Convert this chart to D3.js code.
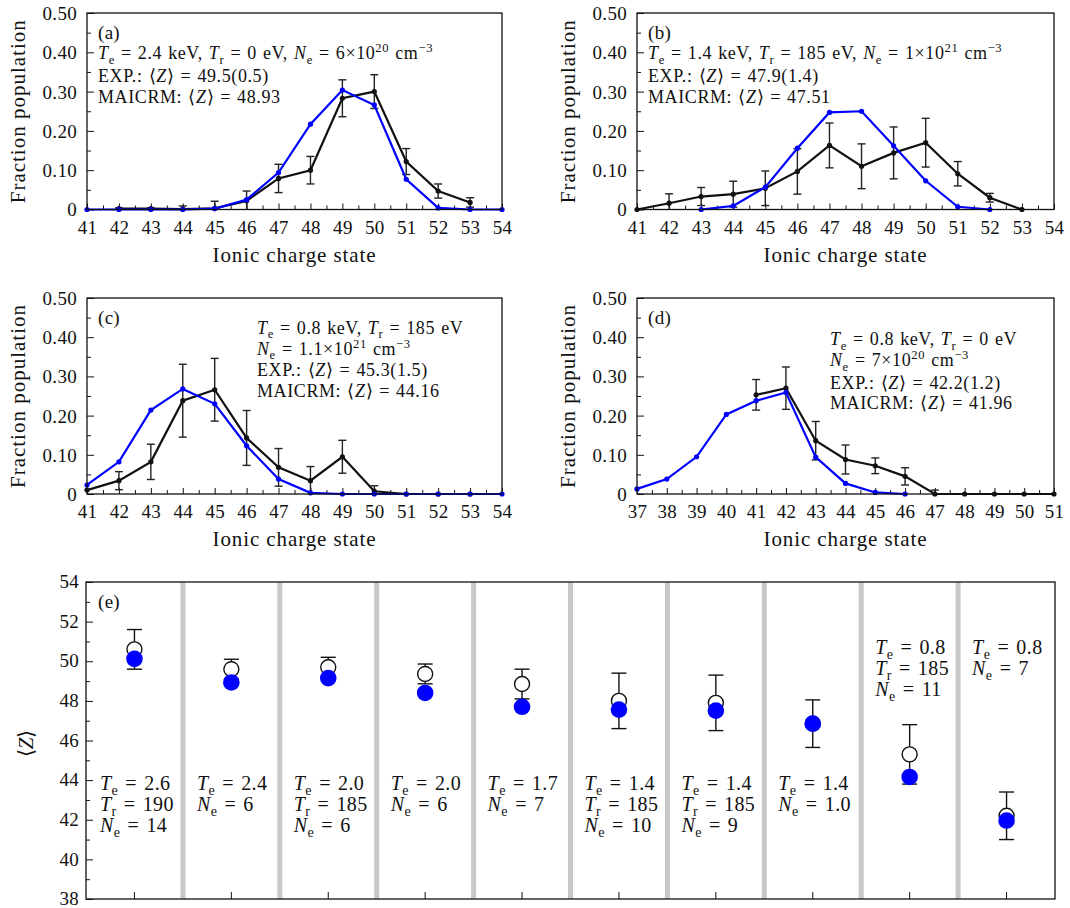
<!DOCTYPE html>
<html><head><meta charset="utf-8">
<script src="https://cdn.jsdelivr.net/npm/d3@7"></script>
<style>
body{margin:0;background:#fff}
svg{display:block;font-family:"Liberation Serif","Times New Roman",serif}
text{white-space:pre}
</style></head><body>
<svg id="chart" width="1070" height="908"></svg>
<script>
// ---------------- data ----------------
// panel (a)
const chargeA_exp = [42,43,44,45,46,47,48,49,50,51,52,53];
const fracA_exp   = [0.002,0.002,0.001,0.003,0.022,0.079,0.100,0.283,0.300,0.122,0.047,0.018];
const errA_exp    = [0.002,0.002,0.008,0.018,0.025,0.036,0.035,0.047,0.043,0.033,0.018,0.012];
const chargeA_mod = [41,42,43,44,45,46,47,48,49,50,51,52,53,54];
const fracA_mod   = [0,0,0,0,0.002,0.025,0.094,0.217,0.304,0.266,0.077,0.004,0,0];
// panel (b)
const chargeB_exp = [41,42,43,44,45,46,47,48,49,50,51,52,53];
const fracB_exp   = [0,0.016,0.033,0.039,0.054,0.097,0.163,0.110,0.144,0.170,0.091,0.030,0];
const errB_exp    = [0,0.024,0.023,0.033,0.044,0.058,0.057,0.057,0.066,0.062,0.031,0.011,0];
const chargeB_mod = [43,44,45,46,47,48,49,50,51,52];
const fracB_mod   = [0,0.009,0.057,0.156,0.247,0.250,0.162,0.073,0.007,0];
// panel (c)
const chargeC_exp = [41,42,43,44,45,46,47,48,49,50,51,52,53];
const fracC_exp   = [0.010,0.034,0.082,0.238,0.266,0.143,0.068,0.034,0.095,0.007,0,0,0];
const errC_exp    = [0,0.023,0.045,0.093,0.080,0.070,0.048,0.036,0.042,0.014,0,0,0];
const chargeC_mod = [41,42,43,44,45,46,47,48,49,50,51,52,53,54];
const fracC_mod   = [0.023,0.082,0.214,0.268,0.230,0.123,0.038,0.003,0,0,0,0,0,0];
// panel (d)
const chargeD_exp = [41,42,43,44,45,46,47,48,49,50,51];
const fracD_exp   = [0.253,0.270,0.136,0.088,0.072,0.045,0,0,0,0,0];
const errD_exp    = [0.039,0.054,0.049,0.037,0.020,0.022,0.010,0,0,0,0];
const chargeD_mod = [37,38,39,40,41,42,43,44,45,46];
const fracD_mod   = [0.013,0.038,0.095,0.203,0.238,0.259,0.094,0.027,0.004,0];

const fracTicks = [0,0.10,0.20,0.30,0.40,0.50];
const fracTickLabels = ["0","0.10","0.20","0.30","0.40","0.50"];
const xDomainABC = [41,54];
const xDomainD = [37,51];

const textA = ["{i:T}{_:e} = 2.4 keV, {i:T}{_:r} = 0 eV, {i:N}{_:e} = 6\u00d710{^:20} cm{^:\u22123}",
               "EXP.: \u27e8{i:Z}\u27e9 = 49.5(0.5)", "MAICRM: \u27e8{i:Z}\u27e9 = 48.93"];
const textB = ["{i:T}{_:e} = 1.4 keV, {i:T}{_:r} = 185 eV, {i:N}{_:e} = 1\u00d710{^:21} cm{^:\u22123}",
               "EXP.: \u27e8{i:Z}\u27e9 = 47.9(1.4)", "MAICRM: \u27e8{i:Z}\u27e9 = 47.51"];
const textC = ["{i:T}{_:e} = 0.8 keV, {i:T}{_:r} = 185 eV", "{i:N}{_:e} = 1.1\u00d710{^:21} cm{^:\u22123}",
               "EXP.: \u27e8{i:Z}\u27e9 = 45.3(1.5)", "MAICRM: \u27e8{i:Z}\u27e9 = 44.16"];
const textD = ["{i:T}{_:e} = 0.8 keV, {i:T}{_:r} = 0 eV", "{i:N}{_:e} = 7\u00d710{^:20} cm{^:\u22123}",
               "EXP.: \u27e8{i:Z}\u27e9 = 42.2(1.2)", "MAICRM: \u27e8{i:Z}\u27e9 = 41.96"];

// panel (e)
const caseLabels = [
  ["{i:T}{_:e} = 2.6","{i:T}{_:r} = 190","{i:N}{_:e} = 14"],
  ["{i:T}{_:e} = 2.4","{i:N}{_:e} = 6"],
  ["{i:T}{_:e} = 2.0","{i:T}{_:r} = 185","{i:N}{_:e} = 6"],
  ["{i:T}{_:e} = 2.0","{i:N}{_:e} = 6"],
  ["{i:T}{_:e} = 1.7","{i:N}{_:e} = 7"],
  ["{i:T}{_:e} = 1.4","{i:T}{_:r} = 185","{i:N}{_:e} = 10"],
  ["{i:T}{_:e} = 1.4","{i:T}{_:r} = 185","{i:N}{_:e} = 9"],
  ["{i:T}{_:e} = 1.4","{i:N}{_:e} = 1.0"],
  ["{i:T}{_:e} = 0.8","{i:T}{_:r} = 185","{i:N}{_:e} = 11"],
  ["{i:T}{_:e} = 0.8","{i:N}{_:e} = 7"]
];
const expZ    = [50.6,49.6,49.7,49.36,48.85,48.0,47.9,46.85,45.3,42.2];
const expZErr = [1.0,0.5,0.5,0.5,0.75,1.4,1.4,1.2,1.5,1.2];
const modelZ  = [50.12,48.93,49.15,48.4,47.7,47.56,47.51,46.85,44.16,41.96];
const zTicks  = [38,40,42,44,46,48,50,52,54];

// ---------------- drawing ----------------
const svg = d3.select("#chart");
const SERIF = "Liberation Serif, Times New Roman, serif";

function rich(sel, str, fs) {
  const re = /\{(i|_|\^):([^}]*)\}/g;
  let last = 0, m, shift = 0;
  const parts = [];
  while ((m = re.exec(str))) {
    if (m.index > last) parts.push({t: str.slice(last, m.index), k: "n"});
    parts.push({t: m[2], k: m[1]});
    last = re.lastIndex;
  }
  if (last < str.length) parts.push({t: str.slice(last), k: "n"});
  parts.forEach(p => {
    const ts = sel.append("tspan").text(p.t);
    let target = 0;
    if (p.k === "_") { target = fs * 0.25; ts.attr("font-size", fs * 0.7); }
    else if (p.k === "^") { target = -fs * 0.38; ts.attr("font-size", fs * 0.7); }
    else if (p.k === "i") ts.attr("font-style", "italic");
    ts.attr("dy", target - shift);
    shift = target;
  });
}

function richText(g, x, yc, str, fs, ls, ws) {
  const t = g.append("text").attr("x", x).attr("y", yc + fs * 0.34)
    .attr("font-size", fs).attr("fill", "#111").attr("font-family", SERIF)
    .attr("letter-spacing", ls || 0).attr("word-spacing", ws || 0);
  rich(t, str, fs);
  return t;
}

function styleAxis(a) {
  a.select(".domain").remove();
  a.attr("font-family", SERIF);
  a.selectAll("line").attr("stroke", "#111").attr("stroke-width", 1);
  a.selectAll("text").attr("font-size", 19).attr("fill", "#111")
    .attr("font-family", SERIF).attr("letter-spacing", 0.3);
}

function fracPanel(cfg) {
  const g = svg.append("g");
  const x = d3.scaleLinear().domain(cfg.xDomain).range([cfg.left, cfg.right]);
  const y = d3.scaleLinear().domain([0, 0.5]).range([cfg.bottom, cfg.top]);
  const ints = d3.range(cfg.xDomain[0], cfg.xDomain[1] + 1);
  const halves = d3.range(cfg.xDomain[0] + 0.5, cfg.xDomain[1], 1);
  const minorY = d3.range(0.05, 0.5, 0.1);

  const xa = g.append("g").attr("transform", `translate(0,${cfg.bottom})`)
    .call(d3.axisBottom(x).tickValues(ints).tickSize(-6).tickPadding(11).tickFormat(d3.format("d")));
  const xm = g.append("g").attr("transform", `translate(0,${cfg.bottom})`)
    .call(d3.axisBottom(x).tickValues(halves).tickSize(-4).tickFormat(""));
  const ya = g.append("g").attr("transform", `translate(${cfg.left},0)`)
    .call(d3.axisLeft(y).tickValues(fracTicks).tickSize(-7).tickPadding(10)
      .tickFormat((d, i) => fracTickLabels[i]));
  const ym = g.append("g").attr("transform", `translate(${cfg.left},0)`)
    .call(d3.axisLeft(y).tickValues(minorY).tickSize(-4).tickFormat(""));
  [xa, xm, ya, ym].forEach(styleAxis);
  ya.selectAll("text").attr("dy", "0.34em");
  xa.selectAll("text").attr("dy", "0.71em");

  const expPts = cfg.expX.map((c, i) => ({c, v: cfg.expY[i], e: cfg.expErr[i]}));
  const eb = g.append("g").attr("stroke", "#222").attr("stroke-width", 1.4);
  expPts.filter(d => d.e > 0).forEach(d => {
    const y1 = y(d.v + d.e), y0 = y(Math.max(0, d.v - d.e)), xc = x(d.c);
    eb.append("line").attr("x1", xc).attr("x2", xc).attr("y1", y1).attr("y2", y0);
    eb.append("line").attr("x1", xc - 4).attr("x2", xc + 4).attr("y1", y1).attr("y2", y1);
    if (d.v - d.e > 0)
      eb.append("line").attr("x1", xc - 4).attr("x2", xc + 4).attr("y1", y0).attr("y2", y0);
  });
  const line = d3.line().x(d => x(d.c)).y(d => y(d.v));
  g.append("path").datum(expPts).attr("d", line).attr("fill", "none")
    .attr("stroke", "#111").attr("stroke-width", 2.2);
  g.selectAll(null).data(expPts).join("circle").attr("cx", d => x(d.c)).attr("cy", d => y(d.v))
    .attr("r", 2.6).attr("fill", "#111");

  const modPts = cfg.modX.map((c, i) => ({c, v: cfg.modY[i]}));
  g.append("path").datum(modPts).attr("d", line).attr("fill", "none")
    .attr("stroke", "#0000ff").attr("stroke-width", 2.2);
  g.selectAll(null).data(modPts).join("circle").attr("cx", d => x(d.c)).attr("cy", d => y(d.v))
    .attr("r", 2.6).attr("fill", "#0000ff");

  g.append("rect").attr("x", cfg.left).attr("y", cfg.top)
    .attr("width", cfg.right - cfg.left).attr("height", cfg.bottom - cfg.top)
    .attr("fill", "none").attr("stroke", "#111").attr("stroke-width", 1.3);

  g.append("text").attr("x", (cfg.left + cfg.right) / 2).attr("y", cfg.bottom + 52)
    .attr("text-anchor", "middle").attr("font-size", 21).attr("letter-spacing", 0.9)
    .attr("font-family", SERIF).attr("fill", "#111").text("Ionic charge state");
  g.append("text").attr("transform", `translate(${cfg.left - 69},${(cfg.top + cfg.bottom) / 2}) rotate(-90)`)
    .attr("text-anchor", "middle").attr("dy", "0.34em").attr("font-size", 21).attr("letter-spacing", 1.0)
    .attr("font-family", SERIF).attr("fill", "#111").text("Fraction population");

  richText(g, cfg.left + 11, cfg.top + 19.5, cfg.tag, 19, 0.3);
  cfg.lines.forEach((s, i) => richText(g, cfg.textX, cfg.top + cfg.textY[i], s, 18, 0.6, 1));
}

fracPanel({left: 87, right: 502, top: 13, bottom: 209.5, xDomain: xDomainABC,
  expX: chargeA_exp, expY: fracA_exp, expErr: errA_exp, modX: chargeA_mod, modY: fracA_mod,
  tag: "(a)", lines: textA, textX: 98, textY: [40, 63, 84]});
fracPanel({left: 637, right: 1054, top: 13, bottom: 209.5, xDomain: xDomainABC,
  expX: chargeB_exp, expY: fracB_exp, expErr: errB_exp, modX: chargeB_mod, modY: fracB_mod,
  tag: "(b)", lines: textB, textX: 648, textY: [40, 63, 84]});
fracPanel({left: 87, right: 502, top: 298, bottom: 494, xDomain: xDomainABC,
  expX: chargeC_exp, expY: fracC_exp, expErr: errC_exp, modX: chargeC_mod, modY: fracC_mod,
  tag: "(c)", lines: textC, textX: 257, textY: [29.5, 50.5, 71.5, 93]});
fracPanel({left: 637, right: 1054, top: 298, bottom: 494, xDomain: xDomainD,
  expX: chargeD_exp, expY: fracD_exp, expErr: errD_exp, modX: chargeD_mod, modY: fracD_mod,
  tag: "(d)", lines: textD, textX: 830, textY: [41, 62, 84.5, 104.5]});

// ---------- panel (e) ----------
(function () {
  const L = 86, R = 1055, T = 582, B = 899;
  const g = svg.append("g");
  const idx = caseLabels.map((d, i) => i);
  const x = d3.scaleBand().domain(idx).range([L, R]).padding(0);
  const y = d3.scaleLinear().domain([38, 54]).range([B, T]);

  idx.slice(1).forEach(i => {
    g.append("line").attr("x1", x(i)).attr("x2", x(i)).attr("y1", T).attr("y2", B)
      .attr("stroke", "#c8c8c8").attr("stroke-width", 5);
  });

  const ya = g.append("g").attr("transform", `translate(${L},0)`)
    .call(d3.axisLeft(y).tickValues(zTicks).tickSize(-7).tickPadding(7).tickFormat(d3.format("d")));
  const ym = g.append("g").attr("transform", `translate(${L},0)`)
    .call(d3.axisLeft(y).tickValues(d3.range(39, 54, 2)).tickSize(-4).tickFormat(""));
  const xa = g.append("g").attr("transform", `translate(0,${B})`)
    .call(d3.axisBottom(x).tickSize(-7).tickFormat(""));
  [ya, ym, xa].forEach(styleAxis);
  ya.selectAll("text").attr("dy", "0.3em");

  const pts = idx.map(i => ({i, e: expZ[i], err: expZErr[i], m: modelZ[i]}));
  const cx = d => x(d.i) + x.bandwidth() / 2;
  const eb = g.append("g").attr("stroke", "#111").attr("stroke-width", 1.4);
  pts.forEach(d => {
    const y1 = y(d.e + d.err), y0 = y(d.e - d.err), c = cx(d);
    eb.append("line").attr("x1", c).attr("x2", c).attr("y1", y1).attr("y2", y0);
    eb.append("line").attr("x1", c - 7.5).attr("x2", c + 7.5).attr("y1", y1).attr("y2", y1);
    eb.append("line").attr("x1", c - 7.5).attr("x2", c + 7.5).attr("y1", y0).attr("y2", y0);
  });
  g.selectAll(null).data(pts).join("circle").attr("cx", cx).attr("cy", d => y(d.e))
    .attr("r", 7.5).attr("fill", "#fff").attr("stroke", "#111").attr("stroke-width", 1.4);
  g.selectAll(null).data(pts).join("circle").attr("cx", cx).attr("cy", d => y(d.m))
    .attr("r", 8.3).attr("fill", "#0000ff");

  g.append("rect").attr("x", L).attr("y", T).attr("width", R - L).attr("height", B - T)
    .attr("fill", "none").attr("stroke", "#111").attr("stroke-width", 1.3);

  caseLabels.forEach((lines, i) => {
    const topZ = i >= 8 ? 50.7 : 43.83;
    lines.forEach((s, k) => richText(g, x(i) + 14, y(topZ) + k * 21, s, 20, 0.4, 1.8));
  });

  richText(g, L + 12, T + 20, "(e)", 19, 0.3);
  const yl = g.append("text").attr("transform", `translate(33,${(T + B) / 2 + 3}) rotate(-90)`)
    .attr("text-anchor", "middle").attr("font-size", 21).attr("fill", "#111").attr("dy", "0.34em")
    .attr("font-family", SERIF);
  rich(yl, "\u27e8{i:Z}\u27e9", 21);
})();
</script>
</body></html>
